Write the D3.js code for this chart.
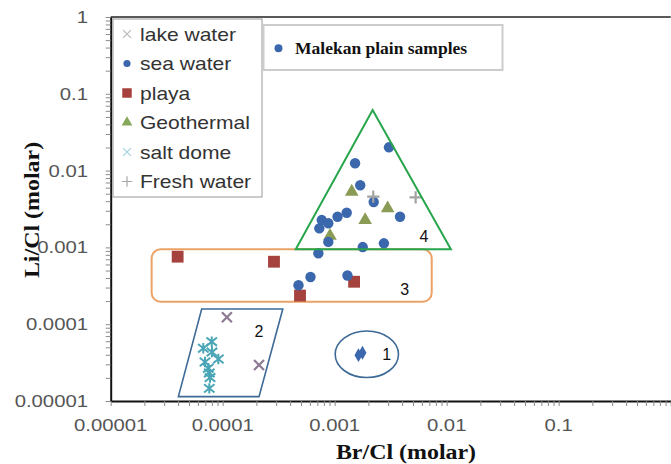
<!DOCTYPE html>
<html>
<head>
<meta charset="utf-8">
<script src="https://cdn.jsdelivr.net/npm/d3@7"></script>
<style>
  html, body { margin: 0; padding: 0; background: #fff; }
  svg { display: block; }
</style>
</head>
<body>
<svg id="chart" width="671" height="464"></svg>
<script>
// ---- data (molar ratios: [Br/Cl, Li/Cl]) ----
const malekanSamples = [
  [0.00305, 0.0201], [0.00152, 0.01245], [0.00169, 0.00644], [0.00223, 0.0039],
  [0.00383, 0.00251], [0.00128, 0.00283], [0.00106, 0.00251], [0.000766, 0.00227],
  [0.000877, 0.00206], [0.000729, 0.00177], [0.000877, 0.00118], [0.00178, 0.00101],
  [0.00275, 0.00113], [0.000715, 0.000838], [0.000608, 0.000412], [0.000475, 0.000321],
  [0.0013, 0.000431]
];
const seaWater = [[0.00163, 0.0000395], [0.00177, 0.0000425]];
const playa = [[0.0000396, 0.000757], [0.000287, 0.000651], [0.00049, 0.000236], [0.00149, 0.000357]];
const geothermal = [[0.000908, 0.00141], [0.00142, 0.00531], [0.00297, 0.00323], [0.00187, 0.00227]];
const freshWater = [[0.00221, 0.00457], [0.00528, 0.00449]];
const lakeWater = [[0.000109, 0.000123], [0.000211, 0.0000294]];
const saltDome = [
  [0.0000798, 0.0000592], [0.0000671, 0.0000486], [0.0000802, 0.0000434],
  [0.0000914, 0.0000352], [0.0000695, 0.0000322], [0.0000743, 0.0000267],
  [0.0000759, 0.0000232], [0.0000771, 0.0000202], [0.0000759, 0.0000146]
];

// group outlines, in data units
const group1Ellipse = { x: [0.00101, 0.00371], y: [0.0000202, 0.0000815] };
const group2Parallelogram = [[0.0000649, 0.000158], [0.000344, 0.000158], [0.000211, 0.0000114], [0.0000402, 0.0000114]];
const group3Box = { x: [0.0000232, 0.00735], y: [0.000196, 0.000944] };
const group4Triangle = [[0.00218, 0.0615], [0.0109, 0.000944], [0.000449, 0.000944]];
const groupLabels = [["1", 0.00291, 0.0000406], ["2", 0.000211, 0.0000815], ["3", 0.00422, 0.000287], ["4", 0.00628, 0.00141]];

const xTicks = [0.00001, 0.0001, 0.001, 0.01, 0.1];
const xTickLabels = ["0.00001", "0.0001", "0.001", "0.01", "0.1"];
const yTicks = [0.00001, 0.0001, 0.001, 0.01, 0.1, 1];
const yTickLabels = ["0.00001", "0.0001", "0.001", "0.01", "0.1", "1"];

const legendNames = ["lake water", "sea water", "playa", "Geothermal", "salt dome", "Fresh water"];

// ---- layout ----
const svg = d3.select("#chart");
const plot = { left: 110.7, right: 670.7, top: 17, bottom: 401 };
const x = d3.scaleLog().domain([1e-5, 1]).range([plot.left, plot.right]);
const y = d3.scaleLog().domain([1e-5, 1]).range([plot.bottom, plot.top]);

const colors = {
  blue: "#3b67ad", playa: "#a6423d", geo: "#8a9b55", salt: "#4aa6b6",
  lake: "#8c7b93", fresh: "#a3a3a3"
};

// stroke-drawn symbol types
const symTimes = { draw(ctx, size) { const r = Math.sqrt(size) / 2;
  ctx.moveTo(-r, -r); ctx.lineTo(r, r); ctx.moveTo(r, -r); ctx.lineTo(-r, r); } };
const symPlus = { draw(ctx, size) { const r = Math.sqrt(size) / 2;
  ctx.moveTo(-r, 0); ctx.lineTo(r, 0); ctx.moveTo(0, -r); ctx.lineTo(0, r); } };
const symStar = { draw(ctx, size) { const r = Math.sqrt(size) / 2;
  ctx.moveTo(-r, -r * 0.8); ctx.lineTo(r, r * 0.8); ctx.moveTo(r, -r * 0.8); ctx.lineTo(-r, r * 0.8);
  ctx.moveTo(0, -r); ctx.lineTo(0, r); } };

// ---- axes ----
function minorTicks() {
  const t = [];
  for (let e = -5; e <= 0; e++) for (let m = 1; m <= 9; m++) {
    const v = m * Math.pow(10, e);
    if (v <= 1.0001) t.push(v);
  }
  return t;
}
const allTicks = minorTicks();

const xAxisG = svg.append("g").attr("transform", `translate(0,${plot.bottom})`)
  .call(d3.axisBottom(x).tickValues(allTicks).tickFormat("").tickSize(5).tickSizeOuter(0));
const yAxisG = svg.append("g").attr("transform", `translate(${plot.left},0)`)
  .call(d3.axisLeft(y).tickValues(allTicks).tickFormat("").tickSize(5).tickSizeOuter(0));
[xAxisG, yAxisG].forEach(g => {
  g.selectAll(".tick line").attr("stroke", "#8a8a8a").attr("stroke-width", 1);
  g.select(".domain").attr("stroke", "#111").attr("stroke-width", 2);
});
// top frame line
svg.append("line").attr("x1", plot.left).attr("x2", plot.right)
  .attr("y1", plot.top).attr("y2", plot.top).attr("stroke", "#222").attr("stroke-width", 1.6);

const tickFont = "'Liberation Sans', Arial, sans-serif";
svg.append("g").selectAll("text").data(xTicks).join("text")
  .attr("transform", d => `translate(${x(d)},431) scale(1.27,1)`)
  .attr("text-anchor", "middle").attr("font-family", tickFont).attr("font-size", 16)
  .attr("fill", "#555").text((d, i) => xTickLabels[i]);
svg.append("g").selectAll("text").data(yTicks).join("text")
  .attr("transform", d => `translate(88,${y(d) + 6}) scale(1.27,1)`)
  .attr("text-anchor", "end").attr("font-family", tickFont).attr("font-size", 16)
  .attr("fill", "#555").text((d, i) => yTickLabels[i]);

// axis titles
const titleFont = "'Liberation Serif', 'Times New Roman', serif";
svg.append("text").attr("transform", "translate(406,459) scale(1.14,1)")
  .attr("text-anchor", "middle").attr("font-family", titleFont).attr("font-weight", "bold")
  .attr("font-size", 21).attr("fill", "#111").text("Br/Cl (molar)");
svg.append("text").attr("transform", "translate(39,210) rotate(-90) scale(1.14,1)")
  .attr("text-anchor", "middle").attr("font-family", titleFont).attr("font-weight", "bold")
  .attr("font-size", 21).attr("fill", "#111").text("Li/Cl (molar)");

// ---- group outlines (behind points) ----
const shapes = svg.append("g").attr("fill", "none");
shapes.append("rect")
  .attr("x", x(group3Box.x[0])).attr("y", y(group3Box.y[1]))
  .attr("width", x(group3Box.x[1]) - x(group3Box.x[0]))
  .attr("height", y(group3Box.y[0]) - y(group3Box.y[1]))
  .attr("rx", 9).attr("stroke", "#eba266").attr("stroke-width", 2);
shapes.append("ellipse")
  .attr("cx", (x(group1Ellipse.x[0]) + x(group1Ellipse.x[1])) / 2)
  .attr("cy", (y(group1Ellipse.y[0]) + y(group1Ellipse.y[1])) / 2)
  .attr("rx", (x(group1Ellipse.x[1]) - x(group1Ellipse.x[0])) / 2)
  .attr("ry", (y(group1Ellipse.y[0]) - y(group1Ellipse.y[1])) / 2)
  .attr("stroke", "#3d6a96").attr("stroke-width", 1.6);
shapes.append("path")
  .attr("d", d3.line().x(d => x(d[0])).y(d => y(d[1])).curve(d3.curveLinearClosed)(group2Parallelogram))
  .attr("stroke", "#3d6a96").attr("stroke-width", 1.6);

// ---- points ----
const pts = svg.append("g");
function drawPoints(data, type, size, fill, stroke, sw) {
  pts.append("g").selectAll("path").data(data).join("path")
    .attr("transform", d => `translate(${x(d[0])},${y(d[1])})`)
    .attr("d", d3.symbol().type(type).size(size))
    .attr("fill", fill).attr("stroke", stroke).attr("stroke-width", sw || 0);
}
drawPoints(saltDome, symStar, 110, "none", colors.salt, 2);
drawPoints(lakeWater, symTimes, 100, "none", colors.lake, 2.2);
drawPoints(playa, d3.symbolSquare, 140, colors.playa, "none");
drawPoints(geothermal, d3.symbolTriangle, 80, colors.geo, "none");
drawPoints(malekanSamples, d3.symbolCircle, 85, colors.blue, "none");
drawPoints(seaWater, d3.symbolDiamond, 55, colors.blue, "none");
drawPoints(freshWater, symPlus, 150, "none", colors.fresh, 2.2);

// group 4 outline drawn over the samples it encloses
svg.append("path")
  .attr("d", d3.line().x(d => x(d[0])).y(d => y(d[1])).curve(d3.curveLinearClosed)(group4Triangle))
  .attr("fill", "none").attr("stroke", "#27a54b").attr("stroke-width", 2);

svg.append("g").selectAll("text").data(groupLabels).join("text")
  .attr("x", d => x(d[1])).attr("y", d => y(d[2]) + 6)
  .attr("text-anchor", "middle").attr("font-family", tickFont).attr("font-size", 16)
  .attr("fill", "#111").text(d => d[0]);

// ---- legend: reference water types ----
const lg = svg.append("g");
lg.append("rect").attr("x", 113).attr("y", 19).attr("width", 149).attr("height", 178)
  .attr("fill", "#fff").attr("stroke", "#a8a8a8").attr("stroke-width", 1.2);
const legendSymbols = [
  { type: symTimes, size: 60, fill: "none", stroke: "#bdbdbd", sw: 1.4 },
  { type: d3.symbolCircle, size: 40, fill: colors.blue, stroke: "none" },
  { type: d3.symbolSquare, size: 90, fill: colors.playa, stroke: "none" },
  { type: d3.symbolTriangle, size: 50, fill: "#86a85a", stroke: "none" },
  { type: symTimes, size: 60, fill: "none", stroke: "#a9d3e3", sw: 1.4 },
  { type: symPlus, size: 110, fill: "none", stroke: "#a8a8a8", sw: 1.2 }
];
const legendY = d3.scaleLinear().domain([0, 5]).range([34, 181.5]);
legendNames.forEach((name, i) => {
  const s = legendSymbols[i];
  lg.append("path").attr("transform", `translate(127,${legendY(i)})`)
    .attr("d", d3.symbol().type(s.type).size(s.size))
    .attr("fill", s.fill).attr("stroke", s.stroke).attr("stroke-width", s.sw || 0);
  lg.append("text").attr("transform", `translate(140,${legendY(i) + 6.5}) scale(1.17,1)`)
    .attr("font-family", tickFont).attr("font-size", 18).attr("fill", "#333").text(name);
});

// ---- legend: study samples ----
const lg2 = svg.append("g");
lg2.append("rect").attr("x", 263.5).attr("y", 25).attr("width", 239).attr("height", 45)
  .attr("fill", "#fff").attr("stroke", "#cccccc").attr("stroke-width", 2);
lg2.append("circle").attr("cx", 278.5).attr("cy", 48.3).attr("r", 4).attr("fill", colors.blue);
lg2.append("text").attr("x", 295).attr("y", 53.5)
  .attr("font-family", titleFont).attr("font-weight", "bold").attr("font-size", 17.5)
  .attr("fill", "#111").text("Malekan plain samples");
</script>
</body>
</html>
